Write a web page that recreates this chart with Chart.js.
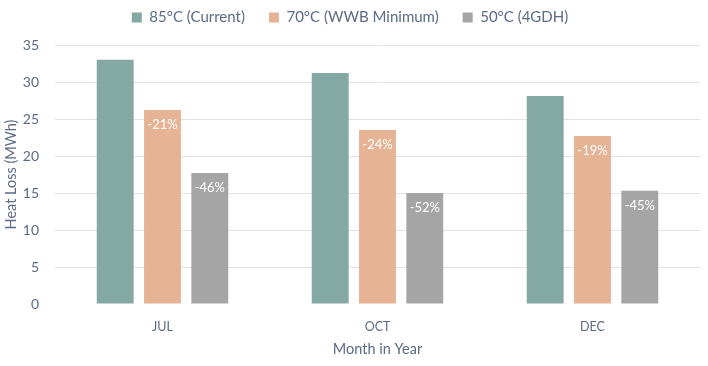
<!DOCTYPE html>
<html>
<head>
<meta charset="utf-8">
<script src="https://cdn.jsdelivr.net/npm/chart.js@4.4.1/dist/chart.umd.min.js"></script>
<style>
  html, body { margin: 0; padding: 0; background: #ffffff; }
  #wrap { width: 708px; height: 366px; position: relative; }
</style>
</head>
<body>
<div id="wrap"><canvas id="c" width="708" height="366"></canvas></div>
<script>
const categories = ["JUL", "OCT", "DEC"];
const seriesNames = ["85°C (Current)", "70°C (WWB Minimum)", "50°C (4GDH)"];
const current85 = [33.0, 31.2, 28.1];
const wwb70 = [26.2, 23.5, 22.7];
const gdh50 = [17.7, 15.0, 15.3];
const labels85 = ["", "", ""];
const labels70 = ["-21%", "-24%", "-19%"];
const labels50 = ["-46%", "-52%", "-45%"];
const yTicks = [0, 5, 10, 15, 20, 25, 30, 35];

const textColor = "#5b6b86";
const fontFamily = "Lato, 'Open Sans', sans-serif";

const barLabelPlugin = {
  id: "barLabels",
  afterDatasetsDraw(chart) {
    const ctx = chart.ctx;
    const allLabels = [labels85, labels70, labels50];
    ctx.save();
    ctx.fillStyle = "#ffffff";
    ctx.font = "13px " + fontFamily;
    ctx.textAlign = "center";
    ctx.textBaseline = "middle";
    chart.data.datasets.forEach((ds, i) => {
      const meta = chart.getDatasetMeta(i);
      meta.data.forEach((bar, j) => {
        const t = allLabels[i][j];
        if (t) ctx.fillText(t, bar.x, bar.y + 15);
      });
    });
    ctx.restore();
  }
};

const legendSpacer = {
  id: "legendSpacer",
  beforeInit(chart) {
    const lg = chart.legend;
    if (lg && !lg.__wrapped) {
      const orig = lg.fit;
      lg.fit = function () { orig.call(this); this.height += 10; };
      lg.__wrapped = true;
    }
  }
};

new Chart(document.getElementById("c"), {
  type: "bar",
  data: {
    labels: categories,
    datasets: [
      { label: seriesNames[0], data: current85, backgroundColor: "#84a9a4", borderWidth: 0 },
      { label: seriesNames[1], data: wwb70, backgroundColor: "#e6b394", borderWidth: 0 },
      { label: seriesNames[2], data: gdh50, backgroundColor: "#a5a5a5", borderWidth: 0 }
    ]
  },
  options: {
    responsive: false,
    animation: false,
    devicePixelRatio: 1,
    layout: { padding: { left: 0, right: 8, top: -14, bottom: 8 } },
    datasets: { bar: { categoryPercentage: 0.66, barPercentage: 0.78 } },
    plugins: {
      tooltip: { enabled: false },
      legend: {
        position: "top",
        labels: {
          boxWidth: 10, boxHeight: 10, padding: 24,
          color: textColor,
          font: { family: fontFamily, size: 15 }
        }
      }
    },
    scales: {
      x: {
        afterFit(scale) { scale.height = 54; },
        grid: { display: false, drawTicks: false },
        border: { display: false },
        ticks: { color: textColor, font: { family: fontFamily, size: 12.5 }, padding: 15 },
        title: { display: true, text: "Month in Year", color: textColor, font: { family: fontFamily, size: 14.5 }, padding: { top: 5, bottom: 0 } }
      },
      y: {
        min: 0, max: 35,
        afterBuildTicks(scale) { scale.ticks = yTicks.map(v => ({ value: v })); },
        afterFit(scale) { scale.width = 55; },
        grid: { color: (c) => (c.tick && c.tick.value === 0 ? "rgba(0,0,0,0)" : "#e3e3e3"), drawTicks: false },
        border: { display: false },
        ticks: { color: textColor, font: { family: fontFamily, size: 14 }, padding: 16 },
        title: { display: true, text: "Heat Loss (MWh)", color: textColor, font: { family: fontFamily, size: 14.5 }, padding: { top: 3, bottom: 0 } }
      }
    }
  },
  plugins: [barLabelPlugin, legendSpacer]
});
</script>
</body>
</html>
